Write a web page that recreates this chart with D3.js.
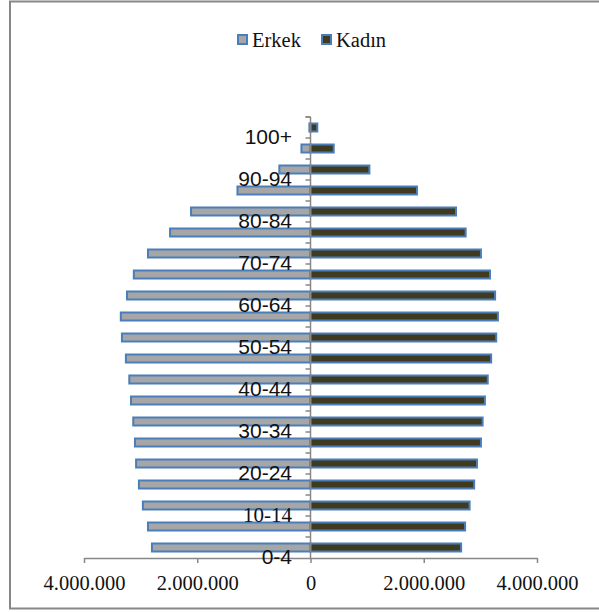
<!DOCTYPE html>
<html><head><meta charset="utf-8">
<script src="https://cdn.jsdelivr.net/npm/d3@7/dist/d3.min.js"></script>
<style>body{margin:0;background:#fff}svg{display:block}</style>
</head><body>
<svg id="c" width="599" height="612"></svg>
<script>
const categories = ["0-4","5-9","10-14","15-19","20-24","25-29","30-34","35-39","40-44","45-49","50-54","55-59","60-64","65-69","70-74","75-79","80-84","85-89","90-94","95-99","100+"];
const erkek = [2800000,2870000,2960000,3030000,3080000,3100000,3130000,3170000,3200000,3260000,3330000,3350000,3240000,3120000,2870000,2480000,2110000,1290000,550000,160000,20000];
const kadin = [2660000,2730000,2810000,2890000,2940000,3010000,3040000,3080000,3130000,3190000,3280000,3310000,3260000,3170000,3010000,2740000,2570000,1880000,1040000,410000,120000];
const xTicks = [-4000000,-2000000,0,2000000,4000000];
const labelled = ["0-4","10-14","20-24","30-34","40-44","50-54","60-64","70-74","80-84","90-94","100+"];
const serifLabels = ["10-14"];
const seriesNames = ["Erkek","Kadın"];

const svg = d3.select("#c");
const axisCol = "#878787", strokeCol = "#4a7ebb";
const fills = ["#a6a6a6","#403b1f"];
const serif = "'Liberation Serif','Times New Roman',serif";
const sans = "'Liberation Sans',Arial,sans-serif";

// frame
svg.append("rect").attr("x",10).attr("y",1.5).attr("width",600).attr("height",607)
  .attr("fill","none").attr("stroke",axisCol).attr("stroke-width",2);

const x = d3.scaleLinear().domain([-4000000,4000000]).range([84,537]);
const y = d3.scaleBand().domain(categories).range([558,117]);
const bw = y.bandwidth();
const bh = 8;

const fmt = v => d3.format(",")(Math.abs(v)).replace(/,/g,".");

// bars
const g = svg.append("g");
g.selectAll("rect.e").data(categories).join("rect").attr("class","e")
  .attr("x",(d,i)=>x(-erkek[i])).attr("width",(d,i)=>x(0)-x(-erkek[i]))
  .attr("y",d=>y(d)+bw/2-bh/2).attr("height",bh)
  .attr("fill",fills[0]).attr("stroke",strokeCol).attr("stroke-width",2);
g.selectAll("rect.k").data(categories).join("rect").attr("class","k")
  .attr("x",x(0)).attr("width",(d,i)=>x(kadin[i])-x(0))
  .attr("y",d=>y(d)+bw/2-bh/2).attr("height",bh)
  .attr("fill",fills[1]).attr("stroke",strokeCol).attr("stroke-width",2);

// x axis
const xa = svg.append("g").attr("transform","translate(0,558)")
  .call(d3.axisBottom(x).tickValues(xTicks).tickSize(5).tickSizeOuter(0).tickPadding(12).tickFormat(fmt));
xa.attr("font-family",null).attr("font-size",null);
xa.select(".domain").attr("stroke",axisCol).attr("stroke-width",1.5);
xa.selectAll(".tick line").attr("stroke",axisCol).attr("stroke-width",1.5);
xa.selectAll(".tick text").style("font-family",serif).style("font-size","20.5px").attr("fill","#111");

// y axis at zero
const ya = svg.append("g").attr("transform",`translate(${x(0)},0)`);
ya.append("line").attr("x1",0).attr("x2",0).attr("y1",117).attr("y2",558).attr("stroke",axisCol).attr("stroke-width",1.5);
const bounds = categories.map(c=>y(c)).concat([117]);
ya.selectAll("line.t").data(bounds).join("line").attr("class","t")
  .attr("x1",-5).attr("x2",0).attr("y1",d=>d).attr("y2",d=>d).attr("stroke",axisCol).attr("stroke-width",1.5);

// category labels
svg.append("g").selectAll("text").data(labelled).join("text")
  .attr("x",292).attr("y",d=>y(d)+bw/2+9)
  .attr("dy","0.35em").attr("text-anchor","end")
  .style("font-family",d=>serifLabels.includes(d)?serif:sans)
  .style("font-size","21px").attr("fill","#111").text(d=>d);

// legend
const lg = svg.append("g");
const lx = [237,321];
seriesNames.forEach((n,i)=>{
  lg.append("rect").attr("x",lx[i]+1).attr("y",35).attr("width",9).attr("height",9)
    .attr("fill",fills[i]).attr("stroke",strokeCol).attr("stroke-width",2);
  lg.append("text").attr("x",lx[i]+15).attr("y",47).style("font-family",serif)
    .style("font-size","20.5px").attr("fill","#111").text(n);
});
</script>
</body></html>
